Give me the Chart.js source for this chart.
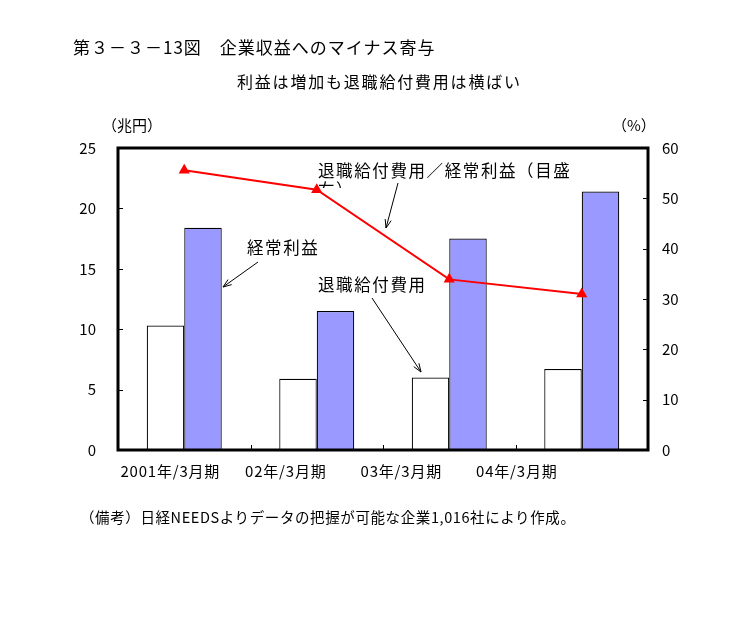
<!DOCTYPE html>
<html>
<head>
<meta charset="utf-8">
<script src="https://cdn.jsdelivr.net/npm/chart.js@4.4.0/dist/chart.umd.min.js"></script>
<style>
  body { margin: 0; background: #fff; }
  #wrap { position: relative; width: 746px; height: 630px; font-family: "Noto Sans CJK JP", sans-serif; color: #000; }
  #wrap canvas { position: absolute; left: 0; top: 0; }
  .txt { position: absolute; white-space: nowrap; line-height: 1; }
</style>
</head>
<body>
<div id="wrap">
  <canvas id="chart" width="746" height="630"></canvas>
  <div class="txt" style="left:73px; top:38px; font-size:17px; letter-spacing:1px;">第３－３－13図　企業収益へのマイナス寄与</div>
  <div class="txt" style="left:237px; top:73px; font-size:16px; letter-spacing:1.8px;">利益は増加も退職給付費用は横ばい</div>
  <div class="txt" style="left:102px; top:117px; font-size:15px;">（兆円）</div>
  <div class="txt" style="left:612px; top:117px; font-size:15px;">（%）</div>
  <div class="txt" style="left:80px; top:510px; font-size:14.5px; letter-spacing:0.6px;">（備考）日経NEEDSよりデータの把握が可能な企業1,016社により作成。</div>
</div>
<script>
// データ
const categories = ['2001年/3月期', '02年/3月期', '03年/3月期', '04年/3月期'];
const retirementCost = [10.3, 5.9, 6.0, 6.7];     // 退職給付費用（兆円）
const ordinaryProfit = [18.4, 11.5, 17.5, 21.4];  // 経常利益（兆円）
const costRatio = [55.6, 51.7, 33.9, 31.0];       // 退職給付費用／経常利益（%）
const leftTicks = [0, 5, 10, 15, 20, 25];
const rightTicks = [0, 10, 20, 30, 40, 50, 60];

const FONT = '"Noto Sans CJK JP", sans-serif';

function arrow(ctx, x1, y1, x2, y2) {
  const a = Math.atan2(y2 - y1, x2 - x1);
  ctx.beginPath();
  ctx.moveTo(x1, y1);
  ctx.lineTo(x2, y2);
  ctx.moveTo(x2 - 9 * Math.cos(a - 0.35), y2 - 9 * Math.sin(a - 0.35));
  ctx.lineTo(x2, y2);
  ctx.lineTo(x2 - 9 * Math.cos(a + 0.35), y2 - 9 * Math.sin(a + 0.35));
  ctx.stroke();
}

// 枠・内向き目盛・横軸ラベル・注記
const decor = {
  id: 'decor',
  afterDraw(chart) {
    const ctx = chart.ctx;
    const a = chart.chartArea;
    const x = chart.scales.x, y = chart.scales.y, y2 = chart.scales.y2;
    ctx.save();
    ctx.strokeStyle = '#000';
    ctx.lineWidth = 1;
    ctx.beginPath();
    leftTicks.forEach(v => { const p = Math.round(y.getPixelForValue(v)) + 0.5; ctx.moveTo(a.left, p); ctx.lineTo(a.left + 5, p); });
    rightTicks.forEach(v => { const p = Math.round(y2.getPixelForValue(v)) + 0.5; ctx.moveTo(a.right, p); ctx.lineTo(a.right - 5, p); });
    for (let i = 1; i < categories.length; i++) {
      const p = Math.round((x.getPixelForValue(i - 1) + x.getPixelForValue(i)) / 2) + 0.5;
      ctx.moveTo(p, a.bottom); ctx.lineTo(p, a.bottom - 5);
    }
    ctx.stroke();

    ctx.lineWidth = 3;
    ctx.strokeRect(a.left, a.top, a.right - a.left, a.bottom - a.top);

    ctx.fillStyle = '#000';
    ctx.font = '15px ' + FONT;
    ctx.letterSpacing = '0.8px';
    ctx.textAlign = 'left';
    ctx.textBaseline = 'middle';
    categories.forEach((c, i) => {
      const w = ctx.measureText(c).width;
      ctx.fillText(c, x.getPixelForValue(i) - 17 * (i + 1) - w / 2 + 3, a.bottom + 21);
    });

    ctx.font = '16.5px ' + FONT;
    ctx.letterSpacing = '1.6px';
    ctx.fillText('退職給付費用／経常利益（目盛', 318, 171);
    ctx.save();
    ctx.beginPath();
    ctx.rect(310, 180, 40, 8);
    ctx.clip();
    ctx.fillText('右）', 318, 190);
    ctx.restore();
    ctx.fillText('経常利益', 247, 248);
    ctx.fillText('退職給付費用', 318, 285);
    ctx.letterSpacing = '0px';

    ctx.lineWidth = 1;
    arrow(ctx, 398, 183, 386, 228);
    arrow(ctx, 258, 262, 223, 287);
    arrow(ctx, 372, 298, 421, 372);
    ctx.restore();
  }
};

new Chart(document.getElementById('chart'), {
  type: 'bar',
  data: {
    labels: categories,
    datasets: [
      {
        type: 'line',
        label: '退職給付費用／経常利益',
        data: costRatio,
        yAxisID: 'y2',
        borderColor: '#ff0000',
        backgroundColor: '#ff0000',
        borderWidth: 2,
        pointStyle: 'triangle',
        pointRadius: 6.5,
        pointBorderWidth: 0,
        tension: 0,
        order: 0
      },
      {
        label: '退職給付費用',
        data: retirementCost,
        yAxisID: 'y',
        backgroundColor: '#ffffff',
        borderColor: '#000000',
        borderWidth: 1.2,
        categoryPercentage: 0.566,
        barPercentage: 1.0,
        order: 1
      },
      {
        label: '経常利益',
        data: ordinaryProfit,
        yAxisID: 'y',
        backgroundColor: '#9999ff',
        borderColor: '#000000',
        borderWidth: 1.2,
        categoryPercentage: 0.566,
        barPercentage: 1.0,
        order: 1
      }
    ]
  },
  options: {
    responsive: false,
    animation: false,
    layout: { padding: { left: 70, right: 48, top: 148, bottom: 180 } },
    plugins: { legend: { display: false }, tooltip: { enabled: false } },
    scales: {
      x: {
        offset: true,
        ticks: { display: false },
        grid: { display: false },
        border: { display: false },
        afterFit(s) { s.height = 0; }
      },
      y: {
        position: 'left',
        min: 0, max: 25,
        afterBuildTicks(s) { s.ticks = leftTicks.map(v => ({ value: v })); },
        ticks: { color: '#000', font: { family: FONT, size: 15 }, padding: 22 },
        grid: { display: false, drawTicks: false },
        border: { display: false },
        afterFit(s) { s.width = 48; }
      },
      y2: {
        position: 'right',
        min: 0, max: 60,
        afterBuildTicks(s) { s.ticks = rightTicks.map(v => ({ value: v })); },
        ticks: { color: '#000', font: { family: FONT, size: 15 }, padding: 14 },
        grid: { display: false, drawTicks: false },
        border: { display: false },
        afterFit(s) { s.width = 50; }
      }
    }
  },
  plugins: [decor]
});
</script>
</body>
</html>
